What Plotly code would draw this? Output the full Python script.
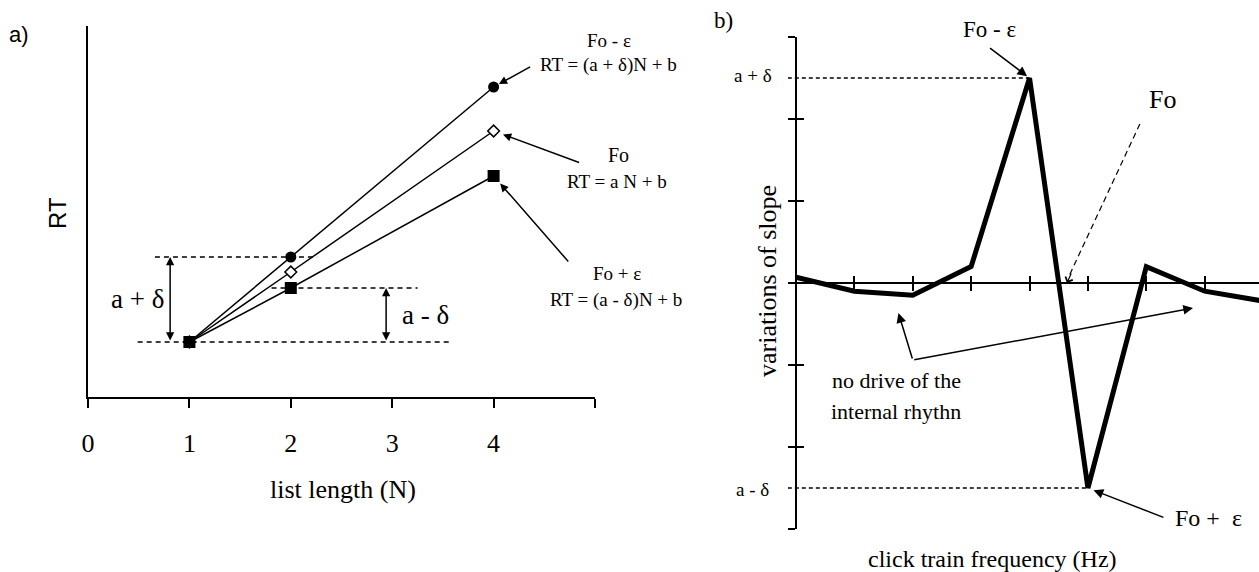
import plotly.graph_objects as go

W, H = 1259, 572


def px(x):
    return x / W


def py(y):
    return 1 - y / H


# ---------------- data ----------------
# panel a: RT (arbitrary units) versus list length
list_length = [1, 2, 4]
rt_fo_minus_eps = [55, 140, 310]   # RT = (a + d)N + b
rt_fo = [55, 125, 266]             # RT = aN + b
rt_fo_plus_eps = [55, 109, 221]    # RT = (a - d)N + b
a_tickvals = [0, 1, 2, 3, 4, 5]
a_ticktext = ["0", "1", "2", "3", "4", ""]

# panel b: variations of slope versus click-train frequency (index)
freq_index = [0, 1, 2, 3, 4, 5, 6, 7, 8]
slope_variation = [0.07, -0.10, -0.15, 0.20, 2.5, -2.5, 0.20, -0.10, -0.22]
b_xtickvals = [1, 2, 3, 4, 5, 6, 7]
b_ytickvals = [-3, -2, -1, 0, 1, 2, 3]

SERIF = "Liberation Serif"
SANS = "Liberation Sans"

# ---------------- geometry ----------------
a_xrange = [0, 5]
a_yrange = [0, 371]
b_xrange = [-0.14, 7.93]
b_yrange = [-3, 3]
b_unit = 58.4
b_x0_pix = 796

fig = go.Figure()

fig.add_trace(go.Scatter(
    x=list_length, y=rt_fo, mode="lines+markers",
    line=dict(color="black", width=1.5),
    marker=dict(symbol="diamond", size=9, color="white",
                line=dict(color="black", width=1.5)),
    xaxis="x", yaxis="y", hoverinfo="skip"))
fig.add_trace(go.Scatter(
    x=list_length, y=rt_fo_minus_eps, mode="lines+markers",
    line=dict(color="black", width=1.5),
    marker=dict(symbol="circle", size=11, color="black"),
    xaxis="x", yaxis="y", hoverinfo="skip"))
fig.add_trace(go.Scatter(
    x=list_length, y=rt_fo_plus_eps, mode="lines+markers",
    line=dict(color="black", width=1.5),
    marker=dict(symbol="square", size=12, color="black"),
    xaxis="x", yaxis="y", hoverinfo="skip"))

fig.add_trace(go.Scatter(
    x=freq_index, y=slope_variation, mode="lines",
    line=dict(color="black", width=5),
    xaxis="x2", yaxis="y2", hoverinfo="skip"))
# helper trace so the overlaying tick axes (x3 / y3) are drawn
fig.add_trace(go.Scatter(
    x=[0], y=[0], mode="markers", marker=dict(opacity=0),
    xaxis="x3", yaxis="y3", hoverinfo="skip"))

b_left = b_x0_pix + b_xrange[0] * b_unit
b_pos_x = px(b_x0_pix)
b_pos_y = py(283)

fig.update_layout(
    width=W, height=H, margin=dict(l=0, r=0, t=0, b=0),
    paper_bgcolor="white", plot_bgcolor="white", showlegend=False,
    xaxis=dict(domain=[px(88), px(595)], range=a_xrange, anchor="y",
               tickmode="array", tickvals=a_tickvals, ticktext=a_ticktext,
               ticks="outside", ticklen=9, tickwidth=1.5, tickcolor="black",
               showline=True, linewidth=2, linecolor="black",
               showgrid=False, zeroline=False, ticklabelstandoff=13,
               automargin=False,
               tickfont=dict(family=SERIF, size=26, color="black")),
    yaxis=dict(domain=[py(397), py(26)], range=a_yrange, anchor="x",
               showline=True, linewidth=2, linecolor="black", automargin=False,
               ticks="", showticklabels=False, showgrid=False, zeroline=False),
    xaxis2=dict(domain=[px(b_left), 1.0], range=b_xrange, anchor="free",
                position=b_pos_y, tickmode="array", tickvals=b_xtickvals,
                ticks="outside", ticklen=7, tickwidth=2, tickcolor="black",
                showline=True, linewidth=2, linecolor="black",
                showticklabels=False, showgrid=False, zeroline=False),
    yaxis2=dict(domain=[py(529), py(37)], range=b_yrange, anchor="free",
                position=b_pos_x, tickmode="array", tickvals=b_ytickvals,
                ticks="outside", ticklen=7, tickwidth=2, tickcolor="black",
                showline=True, linewidth=2, linecolor="black",
                showticklabels=False, showgrid=False, zeroline=False),
    xaxis3=dict(overlaying="x2", range=b_xrange, anchor="free",
                position=b_pos_y, tickmode="array", tickvals=b_xtickvals,
                ticks="inside", ticklen=7, tickwidth=2, tickcolor="black",
                showline=False, showticklabels=False, showgrid=False,
                zeroline=False),
    yaxis3=dict(overlaying="y2", range=b_yrange, anchor="free",
                position=b_pos_x, tickmode="array", tickvals=b_ytickvals,
                ticks="inside", ticklen=7, tickwidth=2, tickcolor="black",
                showline=False, showticklabels=False, showgrid=False,
                zeroline=False),
)

# ---------------- shapes (dashed guide lines) ----------------
base = rt_fo_plus_eps[0]
shapes = [
    dict(type="line", xref="x", yref="y", x0=0.66, x1=2.26,
         y0=rt_fo_minus_eps[1], y1=rt_fo_minus_eps[1],
         line=dict(color="black", width=1.5, dash="5px,4px")),
    dict(type="line", xref="x", yref="y", x0=1.81, x1=3.25,
         y0=rt_fo_plus_eps[1], y1=rt_fo_plus_eps[1],
         line=dict(color="black", width=1.5, dash="5px,4px")),
    dict(type="line", xref="x", yref="y", x0=0.49, x1=3.57,
         y0=base, y1=base,
         line=dict(color="black", width=1.5, dash="5px,4px")),
]
i_max = slope_variation.index(max(slope_variation))
i_min = slope_variation.index(min(slope_variation))
shapes += [
    dict(type="line", xref="x2", yref="y2", x0=b_xrange[0], x1=freq_index[i_max],
         y0=slope_variation[i_max], y1=slope_variation[i_max],
         line=dict(color="black", width=1.3, dash="4px,3px")),
    dict(type="line", xref="x2", yref="y2", x0=b_xrange[0], x1=freq_index[i_min],
         y0=slope_variation[i_min], y1=slope_variation[i_min],
         line=dict(color="black", width=1.3, dash="4px,3px")),
    # dashed pointer towards Fo
    dict(type="line", xref="x2", yref="y2", x0=5.89, y0=1.94, x1=4.68, y1=0.09,
         line=dict(color="black", width=1.2, dash="6px,4px")),
]
fig.update_layout(shapes=shapes)


# ---------------- annotations ----------------
def txt(x, y, s, size, family=SERIF, xanchor="center", **kw):
    return dict(x=px(x), y=py(y), xref="paper", yref="paper", text=s,
                showarrow=False, xanchor=xanchor, yanchor="middle",
                font=dict(family=family, size=size, color="black"), **kw)


def arrow(x, y, ax, ay, xref, yref, standoff=0, head=2, width=1.5, size=1.1,
          axref="pixel", ayref="pixel"):
    return dict(x=x, y=y, ax=ax, ay=ay, xref=xref, yref=yref, axref=axref,
                ayref=ayref, text="", showarrow=True, arrowhead=head,
                arrowsize=size, arrowwidth=width, arrowcolor="black",
                standoff=standoff)


ann = [
    txt(19, 34, "a)", 22, SANS),
    txt(57, 213, "RT", 24, SANS, textangle=-90),
    txt(343, 489, "list length (N)", 26),
    txt(609, 41, "Fo - ε", 19),
    txt(608, 65, "RT = (a + δ)N + b", 19),
    txt(618, 155, "Fo", 20),
    txt(617, 182, "RT = a N + b", 19),
    txt(617, 273, "Fo + ε", 19),
    txt(616, 300, "RT = (a - δ)N + b", 19),
    txt(137, 299, "a + δ", 27),
    txt(425, 315, "a - δ", 27),
    # panel b texts
    txt(723, 20, "b)", 23),
    txt(989, 29, "Fo - ε", 23),
    txt(1162, 100, "Fo", 26),
    txt(774, 75, "a + δ", 19, xanchor="right"),
    txt(771, 489, "a - δ", 19, xanchor="right"),
    txt(767, 281, "variations of slope", 26, textangle=-90),
    txt(896, 380, "no drive of the", 22),
    txt(896, 411, "internal rhythn", 22),
    txt(1208, 518, "Fo +  ε", 24),
    txt(992, 559, "click train frequency (Hz)", 24),
    # panel a arrows
    arrow(list_length[2], rt_fo_minus_eps[2], 38, -21, "x", "y", standoff=6),
    arrow(list_length[2], rt_fo[2], 87, 32, "x", "y", standoff=10),
    arrow(list_length[2], rt_fo_plus_eps[2], 76, 87, "x", "y", standoff=10),
    # double-headed arrows for a+d / a-d
    dict(x=0.81, y=rt_fo_minus_eps[1], ax=0.81, ay=base, xref="x", yref="y",
         axref="x", ayref="y", text="", showarrow=True, arrowhead=2,
         startarrowhead=2, arrowside="end+start", arrowsize=1.1,
         startarrowsize=1.1, arrowwidth=1.5, arrowcolor="black"),
    dict(x=2.94, y=rt_fo_plus_eps[1], ax=2.94, ay=base, xref="x", yref="y",
         axref="x", ayref="y", text="", showarrow=True, arrowhead=2,
         startarrowhead=2, arrowside="end+start", arrowsize=1.1,
         startarrowsize=1.1, arrowwidth=1.5, arrowcolor="black"),
    # panel b arrows
    arrow(freq_index[i_max], slope_variation[i_max], -41, -31, "x2", "y2",
          standoff=3, size=1.3),
    arrow(freq_index[i_min], slope_variation[i_min], 77, 30, "x2", "y2",
          standoff=6, size=1.3),
    arrow(4.64, 0, 5, -11, "x2", "y2", head=4, width=1.2, size=1.3),
    arrow(1.755, -0.366, 2.0, -0.94, "x2", "y2", axref="x2", ayref="y2",
          size=1.3),
    arrow(6.8, -0.305, 2.0, -0.94, "x2", "y2", axref="x2", ayref="y2",
          size=1.3),
]
fig.update_layout(annotations=ann)

fig.write_html("out.html")
